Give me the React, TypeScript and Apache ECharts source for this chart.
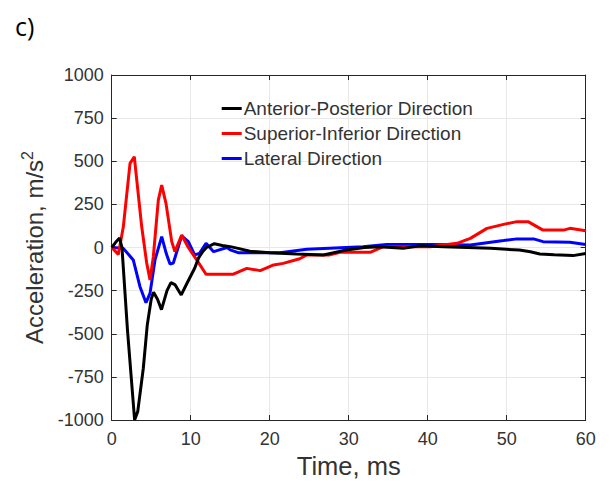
import React, { useEffect, useRef } from "react";
import * as echarts from "echarts";

const AP_T = [0, 0.5, 1, 1.3, 2, 2.9, 3.3, 4, 4.5, 5, 5.3, 5.8, 6.3, 7, 7.5, 8, 8.8, 9.5, 10.5, 11, 11.5, 12, 13, 14, 15, 16, 17.5, 20, 23.4, 26.8, 29.7, 32, 34, 36.9, 39, 42, 45, 48, 51.6, 53, 54.2, 56, 58.4, 60];
const AP_V = [0, 30, 55, 0, -480, -1000, -950, -700, -450, -300, -260, -300, -360, -250, -204, -215, -275, -210, -120, -60, -25, 0, 22, 12, 5, -5, -22, -30, -38, -43, -14, 0, 5, -5, 10, 5, 0, -5, -15, -25, -38, -42, -47, -35];

const SI_T = [0, 0.84, 1.47, 2.32, 2.86, 3.8, 4.43, 4.85, 5.27, 5.9, 6.33, 6.87, 7.6, 8.0, 8.86, 9.7, 10.76, 11.94, 15.4, 17.1, 18.8, 20.5, 21.7, 23.8, 24.7, 27.6, 28.9, 32.7, 34.4, 40.3, 43.7, 45.4, 47.5, 49.6, 51.3, 52.7, 54.6, 57.2, 58, 60];
const SI_V = [0, -40, 120, 488, 526, 120, -90, -188, -53, 275, 362, 256, 34, -24, 72, 0, -72, -155, -155, -121, -134, -101, -92, -65, -43, -43, -28, -28, 5, 5, 24, 53, 111, 134, 150, 150, 101, 101, 111, 97];

const LA_T = [0, 1.47, 2.73, 3.58, 4.34, 4.85, 5.48, 6.33, 6.9, 7.38, 7.8, 8.86, 9.7, 10.5, 11.1, 11.94, 12.9, 14.6, 15, 16, 21.3, 24.7, 31.8, 34.8, 37.8, 40.3, 45.4, 47.5, 49.6, 51.3, 53.4, 54.6, 58, 60];
const LA_V = [0, -5, -72, -227, -320, -266, -72, 63, -34, -96, -90, 68, 34, -43, -35, 24, -24, 0, -14, -30, -30, -10, 5, 18, 18, 18, 14, 28, 40, 50, 50, 34, 30, 18];

const SERIES_NAMES = ["Anterior-Posterior Direction", "Superior-Inferior Direction", "Lateral Direction"];
const SERIES_COLORS = ["#000000", "#ff0000", "#0000ff"];

const X_MIN = 0, X_MAX = 60, X_STEP = 10;
const Y_MIN = -1000, Y_MAX = 1000, Y_STEP = 250;

const zip = (t: number[], v: number[]) => t.map((x, i) => [x, v[i]]);

export default function App() {
  const ref = useRef<HTMLDivElement>(null);
  useEffect(() => {
    if (!ref.current) return;
    const chart = echarts.init(ref.current, null, { renderer: "svg" });
    const font = "Liberation Sans";
    const axisColor = "#262626";
    const textColor = "#333333";
    const baseAxis = {
      axisLine: { show: true, onZero: false, lineStyle: { color: axisColor, width: 1 } },
      axisTick: { show: true, inside: true, length: 5, lineStyle: { color: axisColor } },
    };
    const datasets = [zip(AP_T, AP_V), zip(SI_T, SI_V), zip(LA_T, LA_V)];
    chart.setOption({
      animation: false,
      backgroundColor: "#ffffff",
      grid: { left: 111.7, right: 24.3, top: 75, bottom: 65, containLabel: false },
      legend: {
        orient: "vertical",
        left: 221.7,
        top: 99,
        padding: 0,
        itemWidth: 20,
        itemHeight: 3,
        itemGap: 6,
        icon: "rect",
        data: SERIES_NAMES,
        textStyle: { fontFamily: font, fontSize: 19, color: textColor, padding: [0, 0, 0, -3] },
      },
      xAxis: [
        {
          type: "value", min: X_MIN, max: X_MAX, interval: X_STEP, position: "bottom",
          ...baseAxis,
          splitLine: { show: true, lineStyle: { color: "#e8e8e8" } },
          axisLabel: { fontFamily: font, fontSize: 18, color: textColor, margin: 10, formatter: (v: number) => String(v) },
          name: "Time, ms", nameLocation: "middle", nameGap: 33,
          nameTextStyle: { fontFamily: font, fontSize: 25.5, color: textColor, verticalAlign: "top" },
        },
        {
          type: "value", min: X_MIN, max: X_MAX, interval: X_STEP, position: "top",
          ...baseAxis, axisLabel: { show: false }, splitLine: { show: false },
        },
      ],
      yAxis: [
        {
          type: "value", min: Y_MIN, max: Y_MAX, interval: Y_STEP, position: "left",
          ...baseAxis,
          splitLine: { show: true, lineStyle: { color: "#e8e8e8" } },
          axisLabel: { fontFamily: font, fontSize: 18, color: textColor, margin: 8, formatter: (v: number) => String(v) },
          name: "Acceleration, m/s{sup|2}", nameLocation: "middle", nameGap: 57,
          nameTextStyle: {
            fontFamily: font, fontSize: 24, color: textColor,
            rich: { sup: { fontFamily: font, fontSize: 16, color: textColor, padding: [0, 0, 14, 0] } },
          },
        },
        {
          type: "value", min: Y_MIN, max: Y_MAX, interval: Y_STEP, position: "right",
          ...baseAxis, axisLabel: { show: false }, splitLine: { show: false },
        },
      ],
      series: SERIES_NAMES.map((name, i) => ({
        name,
        type: "line",
        data: datasets[i],
        showSymbol: false,
        symbol: "none",
        lineStyle: { color: SERIES_COLORS[i], width: 3 },
        itemStyle: { color: SERIES_COLORS[i] },
        z: 3 - i,
      })),
      graphic: [
        { type: "text", left: 15, top: 13, style: { text: "c)", fontFamily: "Open Sans", fontSize: 25, fill: "#000" } },
      ],
    });
    return () => chart.dispose();
  }, []);
  return <div ref={ref} style={{ position: "absolute", left: 0, top: 0, width: 610, height: 485 }} />;
}
